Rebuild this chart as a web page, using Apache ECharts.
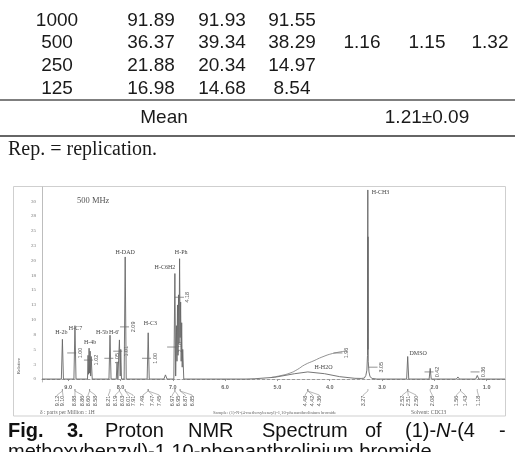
<!DOCTYPE html>
<html><head><meta charset="utf-8">
<script src="https://cdn.jsdelivr.net/npm/echarts@6/dist/echarts.min.js"></script>
<style>html,body{margin:0;padding:0;background:#fff;}#c{width:515px;height:452px;}</style>
</head><body><div id="c"></div>
<script>
// ---- table data ----
const concentrations = [1000, 500, 250, 125];
const rep1 = [91.89, 36.37, 21.88, 16.98];
const rep2 = [91.93, 39.34, 20.34, 14.68];
const rep3 = [91.55, 38.29, 14.97, 8.54];
const lc50 = [1.16, 1.15, 1.32];
const meanLabel = 'Mean';
const meanValue = '1.21±0.09';
const footnote = 'Rep. = replication.';

// ---- spectrum axes ----
const xTicks = [9, 8, 7, 6, 5, 4, 3, 2, 1];
const yTickValues = [0, 2.5, 5, 7.5, 10, 12.5, 15, 17.5, 20, 22.5, 25, 27.5, 30];
const yTickLabels = ['0', '3', '5', '8', '10', '13', '15', '18', '20', '23', '25', '28', '30'];

// ---- spectrum trace [ppm, intensity] ----
const spectrum = [
  [9.50, 0], [9.13, 0], [9.11, 6.7], [9.09, 0],
  [8.89, 0], [8.87, 9.0], [8.85, 0],
  [8.63, 0], [8.62, 4.0], [8.61, 0.8], [8.60, 5.2], [8.59, 1.0], [8.58, 4.7], [8.57, 0.5], [8.56, 3.8], [8.54, 0],
  [8.22, 0], [8.20, 7.4], [8.18, 0],
  [8.08, 0], [8.065, 2.9], [8.05, 0],
  [8.035, 0], [8.02, 6.6], [8.005, 0.5], [7.995, 5.0], [7.98, 0],
  [7.93, 0], [7.91, 20.6], [7.89, 0],
  [7.49, 0], [7.47, 7.8], [7.45, 0],
  [7.17, 0], [7.14, 0.7], [7.11, 0],
  [6.98, 0], [6.96, 17.8], [6.945, 0.5], [6.93, 9.0], [6.92, 3.0], [6.91, 12.5], [6.90, 4.0], [6.89, 14.2],
  [6.88, 6.0], [6.87, 20.3], [6.86, 7.0], [6.85, 13.0], [6.84, 3.0], [6.83, 9.5], [6.82, 2.0], [6.81, 5.0], [6.79, 0],
  [5.60, 0], [5.43, 0.05], [5.05, 0.3], [4.67, 0.9], [4.42, 1.2], [4.10, 0.9], [3.81, 0.4], [3.52, 0.12], [3.40, 0.1],
  [3.34, 0.15], [3.31, 0.6], [3.29, 1.5], [3.278, 4.0], [3.272, 31.9], [3.270, 5.0], [3.268, 24.0], [3.264, 3.0],
  [3.25, 1.2], [3.23, 0.4], [3.19, 0.1], [3.10, 0],
  [2.53, 0], [2.51, 3.8], [2.49, 0],
  [2.10, 0], [2.08, 1.8], [2.06, 0],
  [1.58, 0], [1.55, 0.35], [1.52, 0],
  [1.21, 0], [1.18, 0.6], [1.15, 0],
  [0.65, 0]
];
// integration curve over the broad water hump
const integralCurve = [[5.11, 0.3], [4.95, 0.55], [4.76, 1.0], [4.62, 1.6], [4.48, 2.4], [4.30, 3.1], [4.15, 3.7], [3.95, 4.3], [3.71, 4.7]];

// peak assignments [ppm, level, text]
const peakLabels = [
  [9.13, 7.8, 'H-2b'], [8.86, 8.6, 'H-C7'], [8.58, 6.1, 'H-4b'], [8.35, 7.8, 'H-5b'], [8.12, 7.9, 'H-6\''],
  [7.91, 21.4, 'H-DAD'], [7.43, 9.3, 'H-C3'], [7.15, 18.9, 'H-C6H2'], [6.84, 21.4, 'H-Ph'],
  [3.03, 31.5, 'H-CH3'], [4.12, 1.9, 'H-H2O'], [2.31, 4.4, 'DMSO']
];
// integral values [ppm, level, text]
const integrals = [
  [8.77, 4.4, '1.00'], [8.45, 3.2, '1.02'], [8.06, 3.5, '1.05'], [7.89, 4.7, '1.01'], [7.76, 8.8, '2.09'],
  [7.34, 3.5, '1.00'], [6.86, 5.4, '2.10'], [6.71, 13.8, '4.18'], [3.68, 4.4, '1.96'], [3.01, 2.0, '3.05'],
  [1.94, 1.2, '0.42'], [1.06, 1.2, '0.36']
];
// chemical shift labels under the axis [peak ppm, label ppm, text]
const shiftLabels = [
  [9.11, 9.21, '9.12'], [9.11, 9.10, '9.10'],
  [8.87, 8.87, '8.88'], [8.87, 8.73, '8.86'], [8.59, 8.62, '8.60'], [8.59, 8.48, '8.58'],
  [8.20, 8.23, '8.21'], [8.02, 8.10, '8.19'], [8.02, 7.97, '8.03'], [7.91, 7.85, '8.01'], [7.91, 7.76, '7.91'],
  [7.47, 7.57, '7.49'], [7.47, 7.39, '7.47'], [7.47, 7.26, '7.45'],
  [6.96, 7.01, '6.97'], [6.96, 6.90, '6.95'], [6.86, 6.76, '6.87'], [6.86, 6.63, '6.85'],
  [4.42, 4.47, '4.48'], [4.42, 4.33, '4.42'], [4.42, 4.20, '4.36'],
  [3.27, 3.36, '3.27'],
  [2.51, 2.61, '2.52'], [2.51, 2.50, '2.51'], [2.51, 2.35, '2.50'],
  [2.08, 2.04, '2.08'],
  [1.50, 1.58, '1.56'], [1.50, 1.41, '1.43'],
  [1.18, 1.16, '1.18']
];

// ---- layout (page graphics) ----
const sans = 'Liberation Sans, Arial, sans-serif';
const serif = 'Liberation Serif, Times New Roman, serif';
const colX = [57, 151, 222, 292, 362, 427, 490];
const rowY = [21, 43, 66, 89];
const g = [];
function txt(x, y, s, o) {
  g.push(Object.assign({type: 'text', x: x, y: y, style: Object.assign({text: s, fill: '#1a1a1a', font: '19px ' + sans, align: 'center', verticalAlign: 'middle'}, o || {})}));
}
concentrations.forEach((c, i) => {
  txt(colX[0], rowY[i], String(c));
  txt(colX[1], rowY[i], rep1[i].toFixed(2));
  txt(colX[2], rowY[i], rep2[i].toFixed(2));
  txt(colX[3], rowY[i], rep3[i].toFixed(2));
});
lc50.forEach((v, j) => txt(colX[4 + j], rowY[1], v.toFixed(2)));
g.push({type: 'line', shape: {x1: 0, y1: 100, x2: 515, y2: 100}, style: {stroke: '#555', lineWidth: 1.5}});
txt(164, 118, meanLabel);
txt(427, 118, meanValue);
g.push({type: 'line', shape: {x1: 0, y1: 136, x2: 515, y2: 136}, style: {stroke: '#333', lineWidth: 1.5}});
txt(8, 150, footnote, {font: '20px ' + serif, align: 'left'});
// spectrum frame
g.push({type: 'rect', shape: {x: 13.5, y: 186.5, width: 492, height: 229.5}, style: {fill: 'none', stroke: '#cfcfcf', lineWidth: 1}});
txt(77, 201, '500 MHz', {font: '8.5px ' + serif, fill: '#555', align: 'left'});
g.push({type: 'text', x: 19, y: 366, rotation: Math.PI / 2, style: {text: 'Relative', font: '5px ' + serif, fill: '#555', align: 'center', verticalAlign: 'middle'}});
txt(40, 413, 'δ : parts per Million : 1H', {font: '5.5px ' + serif, fill: '#666', align: 'left'});
txt(213, 413, 'Sample: (1)-N-(4-methoxybenzyl)-1,10-phenanthrolinium bromide', {font: '4.6px ' + serif, fill: '#666', align: 'left'});
txt(411, 413, 'Solvent: CDCl3', {font: '5.5px ' + serif, fill: '#666', align: 'left'});
// caption
const capY = 431;
txt(8, capY, 'Fig.', {font: 'bold 20px ' + sans, align: 'left', fill: '#111'});
txt(67, capY, '3.', {font: 'bold 20px ' + sans, align: 'left', fill: '#111'});
txt(105, capY, 'Proton', {font: '20px ' + sans, align: 'left', fill: '#111'});
txt(188, capY, 'NMR', {font: '20px ' + sans, align: 'left', fill: '#111'});
txt(262, capY, 'Spectrum', {font: '20px ' + sans, align: 'left', fill: '#111'});
txt(365, capY, 'of', {font: '20px ' + sans, align: 'left', fill: '#111'});
g.push({type: 'text', x: 405, y: capY, style: {rich: {a: {font: '20px ' + sans, fill: '#111'}, i: {font: 'italic 20px ' + sans, fill: '#111'}}, text: '{a|(1)-}{i|N}{a|-(4}', align: 'left', verticalAlign: 'middle'}});
txt(499, capY, '-', {font: '20px ' + sans, align: 'left', fill: '#111'});
txt(8, 452, 'methoxybenzyl)-1,10-phenanthrolinium bromide', {font: '20px ' + sans, align: 'left', fill: '#111'});

const chart = echarts.init(document.getElementById('c'), null, {renderer: 'canvas'});
chart.setOption({
  animation: false,
  backgroundColor: '#fff',
  graphic: g,
  grid: {left: 42, right: 10, top: 187, bottom: 70},
  xAxis: {
    type: 'value', inverse: true, min: 0.65, max: 9.5,
    splitLine: {show: false},
    axisLine: {lineStyle: {color: '#9a9a9a', width: 1, type: [3, 2]}},
    axisTick: {customValues: xTicks, length: 2, lineStyle: {color: '#999'}},
    axisLabel: {customValues: xTicks, formatter: v => v.toFixed(1), fontSize: 5.5, fontWeight: 'bold', color: '#666', margin: 2, fontFamily: sans}
  },
  yAxis: {
    type: 'value', min: -0.5, max: 32.4,
    splitLine: {show: false},
    axisLine: {show: true, lineStyle: {color: '#bdbdbd'}},
    axisTick: {show: false},
    axisLabel: {customValues: yTickValues, formatter: v => yTickLabels[yTickValues.indexOf(v)], fontSize: 5, color: '#777', margin: 6, fontFamily: serif}
  },
  series: [
    {type: 'line', data: spectrum, showSymbol: false, clip: false, lineStyle: {color: '#666', width: 0.9}, z: 3},
    {type: 'line', data: integralCurve, showSymbol: false, smooth: true, clip: false, lineStyle: {color: '#777', width: 0.8}},
    {type: 'custom', data: peakLabels.map(d => [d[0], d[1]]), clip: false,
      renderItem: (p, api) => {
        const c = api.coord([api.value(0), api.value(1)]);
        return {type: 'text', x: c[0], y: c[1], style: {text: peakLabels[p.dataIndex][2], font: '6px ' + serif, fill: '#444', align: 'center', verticalAlign: 'middle'}};
      }},
    {type: 'custom', data: integrals.map(d => [d[0], d[1]]), clip: false,
      renderItem: (p, api) => {
        const c = api.coord([api.value(0), api.value(1)]);
        return {type: 'group', children: [
          {type: 'line', shape: {x1: c[0] - 13, y1: c[1], x2: c[0] - 4, y2: c[1]}, style: {stroke: '#777', lineWidth: 0.8}},
          {type: 'text', x: c[0], y: c[1], rotation: Math.PI / 2, style: {text: integrals[p.dataIndex][2], font: '5.5px ' + sans, fill: '#555', align: 'center', verticalAlign: 'middle'}}
        ]};
      }},
    {type: 'custom', data: shiftLabels.map(d => [d[0], d[1]]), clip: false,
      renderItem: (p, api) => {
        const a = api.coord([api.value(0), -0.5]);
        const b = api.coord([api.value(1), -0.5]);
        const y0 = a[1];
        return {type: 'group', children: [
          {type: 'polyline', shape: {points: [[a[0], y0 + 7], [a[0], y0 + 9], [b[0], y0 + 13], [b[0], y0 + 14]]}, style: {stroke: '#888', lineWidth: 0.6, fill: 'none'}},
          {type: 'text', x: b[0], y: y0 + 19, rotation: Math.PI / 2, style: {text: shiftLabels[p.dataIndex][2], font: '5.5px ' + sans, fill: '#555', align: 'center', verticalAlign: 'middle'}}
        ]};
      }}
  ]
});
</script></body></html>
